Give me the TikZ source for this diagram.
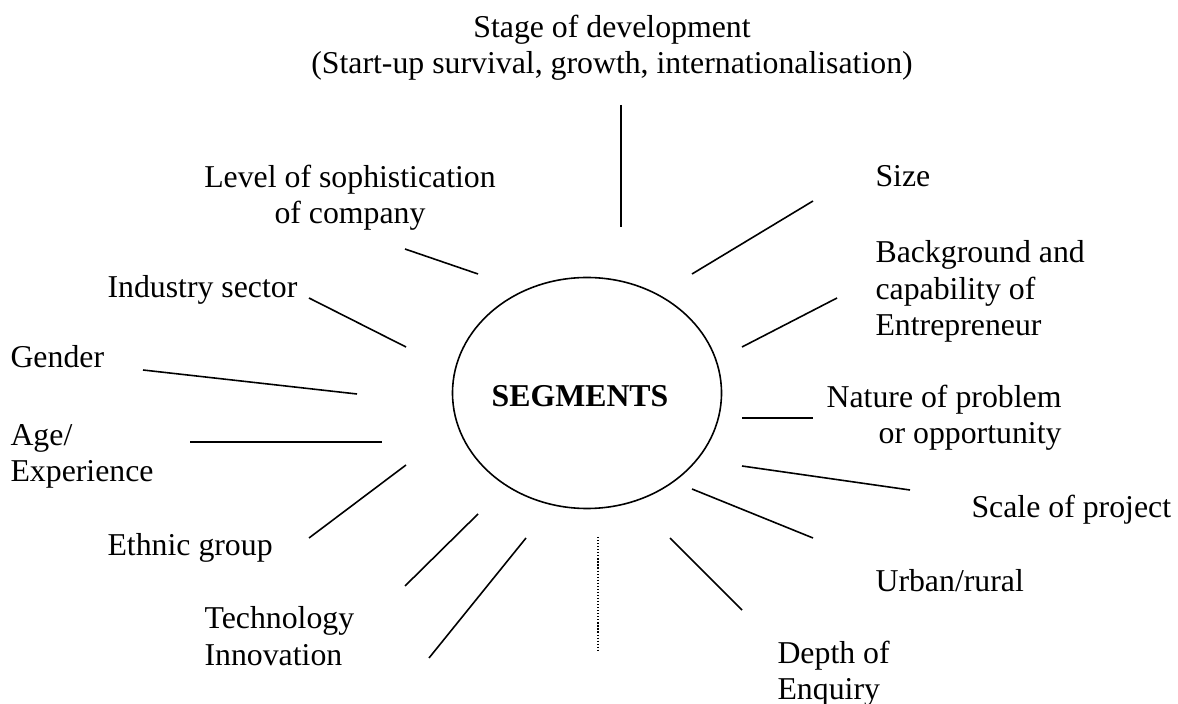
\documentclass[tikz,border=0pt]{standalone}
\usepackage{fontspec}
\setmainfont{Liberation Serif}

\begin{document}
\begin{tikzpicture}[x=0.3774pt, y=-0.3774pt,
		spoke/.style={line width=0.6pt},
		lbl/.style={inner sep=0pt, font=\fontsize{12}{13.9}\selectfont}]
			%%%%% START %%%%%
			
			\useasboundingbox (0, 0) rectangle (1178, 704);
			
			\draw[line width=0.6pt] (587, 393) ellipse [x radius=134.5, y radius=115.5];
			\node[lbl, font=\fontsize{12}{13.9}\selectfont\bfseries, anchor=base] (segments) at (580, 407) {SEGMENTS};
			
			% multi-line labels sit on the baseline of their last line
			\node[lbl, align=center, anchor=base] (stage) at (612, 74) {Stage of development\\(Start-up survival, growth, internationalisation)};
			\node[lbl, align=center, anchor=base] (level) at (350, 224) {Level of sophistication\\of company};
			\node[lbl, anchor=base west] (size) at (875, 187) {Size};
			\node[lbl, anchor=base west] (industry) at (107, 298) {Industry sector};
			\node[lbl, align=left, anchor=base west] (background) at (875, 336) {Background and\\capability of\\Entrepreneur};
			\node[lbl, anchor=base west] (gender) at (10, 368) {Gender};
			\node[lbl, align=right, anchor=base east] (nature) at (1062, 444) {Nature of problem\\or opportunity};
			\node[lbl, align=left, anchor=base west] (age) at (10, 482) {Age/\\Experience};
			\node[lbl, anchor=base west] (scale) at (971, 518) {Scale of project};
			\node[lbl, anchor=base west] (ethnic) at (107, 556) {Ethnic group};
			\node[lbl, anchor=base west] (urban) at (875, 592) {Urban/rural};
			\node[lbl, align=left, anchor=base west] (technology) at (204, 665) {Technology\\Innovation};
			\node[lbl, align=left, anchor=base west] (depth) at (777, 700) {Depth of\\Enquiry};
			
			\draw[spoke] (621, 105) -- (621, 227);
			\draw[spoke] (813, 201) -- (692, 274);
			\draw[spoke] (405, 249) -- (478, 274);
			\draw[spoke] (309, 298) -- (406, 347);
			\draw[spoke] (837, 298) -- (742, 347);
			\draw[spoke] (143, 370) -- (357, 394);
			\draw[spoke] (190, 442) -- (382, 442);
			\draw[spoke] (742, 418) -- (813, 418);
			\draw[spoke] (406, 465) -- (309, 538);
			\draw[spoke] (742, 466) -- (910, 490);
			\draw[spoke] (692, 489) -- (813, 538);
			\draw[spoke] (478, 514) -- (405, 586);
			\draw[spoke] (526, 538) -- (429, 658);
			\draw[spoke] (670, 538) -- (742, 610);
			\draw[line width=0.45pt, dash pattern=on 0.45pt off 0.7pt] (598, 537) -- (598, 651);
			
			%%%%% END %%%%%
\end{tikzpicture}
\end{document}
